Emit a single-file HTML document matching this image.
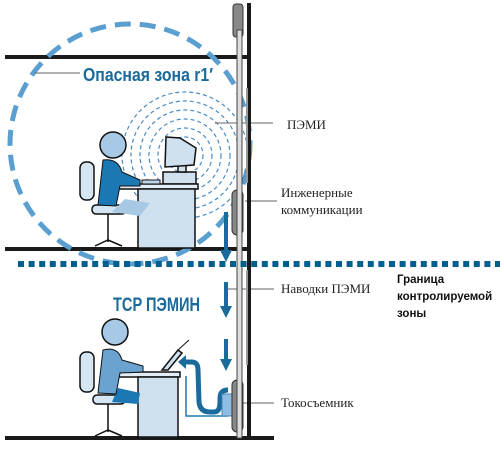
<!DOCTYPE html>
<html><head><meta charset="utf-8"><style>
html,body{margin:0;padding:0;background:#fff;}
svg{display:block}
.s{font-family:"Liberation Serif",serif;font-size:13px;fill:#222}
</style></head><body>
<svg width="500" height="454" viewBox="0 0 500 454" xmlns="http://www.w3.org/2000/svg">
<rect x="5" y="55" width="243" height="4" fill="#1a1a1a"/>
<rect x="5" y="247" width="243" height="4" fill="#1a1a1a"/>
<rect x="5" y="436" width="269" height="4" fill="#1a1a1a"/>
<circle cx="130" cy="144" r="120" fill="none" stroke="#5b9fd0" stroke-width="5" stroke-dasharray="16 9"/>
<g fill="none" stroke="#4a8cc4" stroke-width="1.2" stroke-dasharray="4 3">
<circle cx="185" cy="155" r="18"/><circle cx="185" cy="155" r="27"/><circle cx="185" cy="155" r="36"/><circle cx="185" cy="155" r="45"/><circle cx="185" cy="155" r="54"/><circle cx="185" cy="155" r="63"/>
</g>
<g stroke="#666" stroke-width="1">
<line x1="35" y1="73" x2="80" y2="73"/>
<line x1="215" y1="123" x2="273" y2="123"/>
<line x1="245" y1="201" x2="277" y2="201"/>
<line x1="227" y1="289" x2="274" y2="289"/>
<line x1="228" y1="403" x2="274" y2="403"/>
</g>
<text x="83" y="81" font-family="Liberation Sans,sans-serif" font-weight="bold" font-size="18" fill="#1b6a9c" textLength="130" lengthAdjust="spacingAndGlyphs">Опасная зона r1′</text>
<g stroke="#111" stroke-width="1.5">
<rect x="163" y="172" width="33" height="12" fill="#cfe0ef"/>
<rect x="178" y="163" width="8" height="9" fill="#cfe0ef"/>
<path d="M166 137 L180 138 L196 148 L194 165 L180 166 L165 167 Z" fill="#cfe0ef"/>
<rect x="118" y="184" width="80" height="5" fill="#e4edf5"/>
<rect x="138" y="189" width="57" height="59" fill="#cfe0ef"/>
<rect x="80" y="162" width="14" height="38" rx="6" fill="#d6e5f2"/>
<rect x="92" y="205" width="34" height="9" rx="4" fill="#d6e5f2"/>
<line x1="108" y1="214" x2="108" y2="242"/>
<path d="M95 246 L108 240 L122 246" fill="none"/>
</g>
<path d="M125 199 L150 203 L140 216 L112 212 Z" fill="#a8c9e6"/>
<path d="M103 160 Q118 158 122 172 L140 180 L140 186 L120 186 L116 206 L98 205 Z" fill="#1b78b4" stroke="#111" stroke-width="1"/>
<rect x="142" y="180" width="18" height="4" fill="#bfd6ea" stroke="#111" stroke-width="1"/>
<circle cx="113" cy="145" r="13" fill="#a8c9e6" stroke="#111" stroke-width="1.5"/>
<g stroke="#111" stroke-width="1.5">
<rect x="118" y="372" width="62" height="5" fill="#e4edf5"/>
<rect x="138" y="377" width="40" height="60" fill="#cfe0ef"/>
<path d="M162 370 L178 350 L182 353 L168 370 Z" fill="#cfe0ef"/>
<line x1="178" y1="350" x2="189" y2="340" stroke-width="1"/>
<rect x="80" y="352" width="14" height="40" rx="6" fill="#d6e5f2"/>
<rect x="93" y="395" width="32" height="9" rx="4" fill="#d6e5f2"/>
<line x1="108" y1="404" x2="108" y2="432"/>
<path d="M95 436 L108 430 L122 436" fill="none"/>
</g>
<path d="M118 388 L140 393 L138 404 L112 402 Z" fill="#1b78b4"/>
<path d="M103 350 Q118 346 122 360 L143 366 L143 372 L120 373 L116 394 L98 393 Z" fill="#6aa3d0" stroke="#111" stroke-width="1"/>
<circle cx="115" cy="332" r="13" fill="#a8c9e6" stroke="#111" stroke-width="1.5"/>
<path d="M183 362 L192 362 Q198 362 198 370 L199 402 Q200 412 210 412 L214 412 Q220 412 220 402 L220 398 Q220 390 228 390" fill="none" stroke="#1b6a9c" stroke-width="5"/>
<path d="M178 362 L186 355 L186 369 Z" fill="#1b6a9c"/>
<path d="M186 376 L186 416 L228 416" fill="none" stroke="#1b78b4" stroke-width="1.5"/>
<rect x="222" y="394" width="11" height="22" fill="#8fbde3" stroke="#4a84b4" stroke-width="1"/>
<rect x="247" y="3" width="4" height="435" fill="#1a1a1a"/>
<rect x="246" y="88" width="2" height="95" fill="#999"/>
<rect x="246" y="270" width="2" height="95" fill="#999"/>
<g fill="#888" stroke="#333" stroke-width="1">
<rect x="233" y="4" width="10" height="33" rx="3"/>
<rect x="232" y="190" width="11" height="45" rx="5"/>
<rect x="232" y="380" width="11" height="52" rx="5"/>
</g>
<rect x="237" y="30" width="5" height="408" fill="#ddd" stroke="#444" stroke-width="1"/>
<g fill="#1b6a9c">
<rect x="224" y="212" width="4" height="40"/><path d="M220 250 L232 250 L226 262 Z"/>
<rect x="224" y="282" width="4" height="26"/><path d="M220 306 L232 306 L226 318 Z"/>
<rect x="224" y="339" width="4" height="22"/><path d="M220 359 L232 359 L226 371 Z"/>
</g>
<line x1="18" y1="264" x2="500" y2="264" stroke="#005f8f" stroke-width="6" stroke-dasharray="6 4.6"/>
<text x="113" y="311" font-family="Liberation Sans,sans-serif" font-weight="bold" font-size="19" fill="#1b6a9c" textLength="87" lengthAdjust="spacingAndGlyphs">TCP ПЭМИН</text>
<text class="s" x="287" y="129">ПЭМИ</text>
<text class="s" x="281" y="197">Инженерные</text>
<text class="s" x="281" y="214">коммуникации</text>
<text class="s" x="281" y="293">Наводки ПЭМИ</text>
<text class="s" x="281" y="407">Токосъемник</text>
<g font-family="Liberation Sans,sans-serif" font-weight="bold" font-size="11.5" fill="#111">
<text x="397" y="283">Граница</text>
<text x="397" y="300">контролируемой</text>
<text x="397" y="317">зоны</text>
</g>
</svg>
</body></html>
